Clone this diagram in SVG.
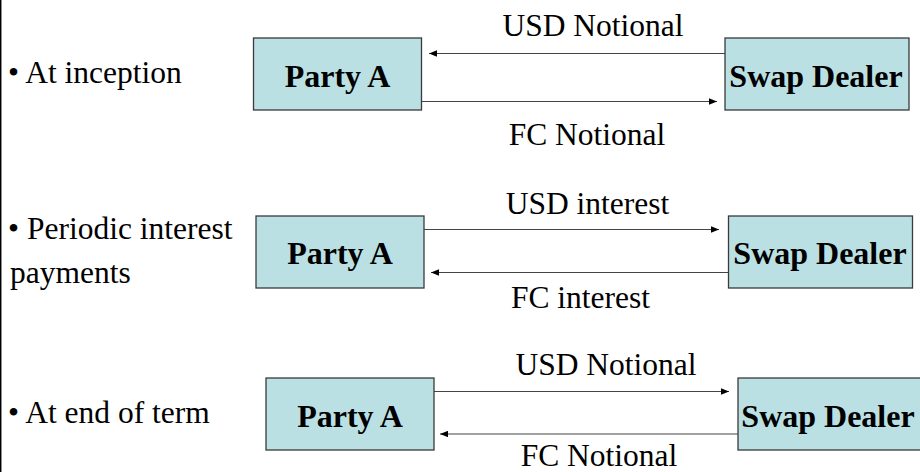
<svg xmlns="http://www.w3.org/2000/svg" width="920" height="472" viewBox="0 0 920 472">
<style>
.box{fill:#BBE0E3;stroke:#3a3a3a;stroke-width:1.3}
.bt{font-family:'Liberation Serif',Tinos,'Times New Roman',Times,'Nimbus Roman','DejaVu Serif',serif;font-weight:bold;font-size:32px;fill:#000;text-anchor:middle}
.t{font-family:'Liberation Serif',Tinos,'Times New Roman',Times,'Nimbus Roman','DejaVu Serif',serif;font-size:31.5px;fill:#000}
.c{text-anchor:middle}
.ln{stroke:#444;stroke-width:1.2;fill:none;marker-end:url(#ah)}
</style>
<defs>
<marker id="ah" viewBox="0 0 10 8" refX="10" refY="4" markerWidth="8" markerHeight="6.4" markerUnits="userSpaceOnUse" orient="auto">
<path d="M0,0 L10,4 L0,8 Z" fill="#000"/>
</marker>
</defs>
<rect x="0" y="0" width="920" height="472" fill="#fff"/>
<line x1="0.7" y1="0" x2="0.7" y2="472" stroke="#000" stroke-width="1.5"/>

<g id="labels">
<text class="t" x="8" y="83">• At inception</text>
<text class="t" x="8" y="239">• Periodic interest</text>
<text class="t" x="10" y="283">payments</text>
<text class="t" x="8" y="423">• At end of term</text>
</g>

<g id="partyA1"><rect class="box" x="253.5" y="38" width="168" height="72"/><text class="bt" x="337.5" y="86.5">Party A</text></g>
<g id="dealer1"><rect class="box" x="725" y="38" width="184" height="72"/><text class="bt" x="816" y="86.5">Swap Dealer</text></g>
<g id="partyA2"><rect class="box" x="256" y="216" width="168" height="72"/><text class="bt" x="340" y="263.5">Party A</text></g>
<g id="dealer2"><rect class="box" x="728.5" y="216" width="184" height="72"/><text class="bt" x="820" y="263.5">Swap Dealer</text></g>
<g id="partyA3"><rect class="box" x="266" y="378" width="168" height="72"/><text class="bt" x="350" y="426.5">Party A</text></g>
<g id="dealer3"><rect class="box" x="738" y="378" width="184" height="72"/><text class="bt" x="828" y="426.5">Swap Dealer</text></g>

<g id="connectors">
<line class="ln" x1="725" y1="53.5" x2="429" y2="53.5"/>
<line class="ln" x1="421.5" y1="101.5" x2="717" y2="101.5"/>
<line class="ln" x1="424" y1="229.5" x2="719" y2="229.5"/>
<line class="ln" x1="728.5" y1="272.5" x2="431" y2="272.5"/>
<line class="ln" x1="434" y1="391.5" x2="729" y2="391.5"/>
<line class="ln" x1="738" y1="434" x2="440" y2="434"/>
<text class="t c" x="593" y="36">USD Notional</text>
<text class="t c" x="587" y="145">FC Notional</text>
<text class="t c" x="587.5" y="214">USD interest</text>
<text class="t c" x="580.5" y="307.5">FC interest</text>
<text class="t c" x="606" y="375">USD Notional</text>
<text class="t c" x="599" y="466">FC Notional</text>
</g>
</svg>
